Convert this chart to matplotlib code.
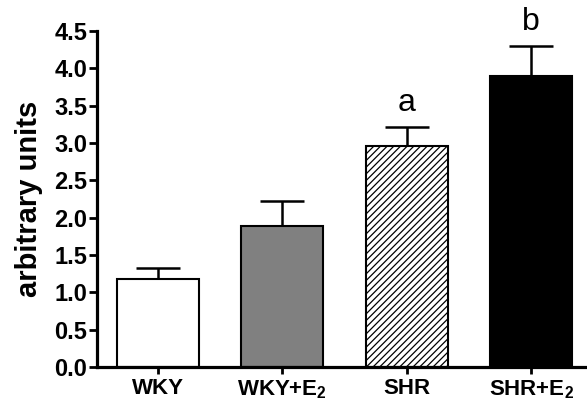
import numpy as np
import matplotlib.pyplot as plt

groups = ["WKY", "WKY+E$_2$", "SHR", "SHR+E$_2$"]
means = [1.18, 1.89, 2.96, 3.90]
errors = [0.15, 0.33, 0.25, 0.40]
letters = ["", "", "a", "b"]
colors = ["white", "#808080", "white", "black"]
hatches = [None, None, "/////", None]

plt.rcParams['font.family'] = 'Liberation Sans'
plt.rcParams['mathtext.fontset'] = 'custom'
plt.rcParams['mathtext.rm'] = 'Liberation Sans:bold'
plt.rcParams['mathtext.default'] = 'rm'
plt.rcParams['hatch.linewidth'] = 0.9

fig = plt.figure(figsize=(5.87, 4.03), dpi=100)
ax = fig.add_axes([0.165, 0.089, 0.835, 0.834])

x = np.arange(len(groups))
for i in range(len(groups)):
    ax.bar(x[i], means[i], width=0.66, color=colors[i], edgecolor="black",
           linewidth=1.5, hatch=hatches[i], zorder=2)
ax.errorbar(x, means, yerr=[np.zeros(len(errors)), errors], fmt="none",
            ecolor="black", elinewidth=1.8, capsize=16, capthick=1.8, zorder=1)

for i in range(len(groups)):
    if letters[i]:
        ax.text(x[i], means[i] + errors[i] + 0.12, letters[i], ha="center",
                va="bottom", fontsize=23)

ax.set_xlim(-0.49, 3.45)
ax.set_ylim(0, 4.5)
ax.set_yticks(np.arange(0, 4.6, 0.5))
ax.set_yticklabels(["%.1f" % v for v in np.arange(0, 4.6, 0.5)],
                   fontsize=17, fontweight="bold")
ax.set_xticks(x)
ax.set_xticklabels(groups, fontsize=16, fontweight="bold")
ax.set_ylabel("arbitrary units", fontsize=21, fontweight="bold", labelpad=8)

ax.spines["top"].set_visible(False)
ax.spines["right"].set_visible(False)
ax.spines["left"].set_linewidth(2.3)
ax.spines["bottom"].set_linewidth(2.3)
ax.tick_params(axis="y", width=2, length=6, pad=1)
ax.tick_params(axis="x", width=2, length=5, pad=3)

fig.savefig("out.png", dpi=100)
